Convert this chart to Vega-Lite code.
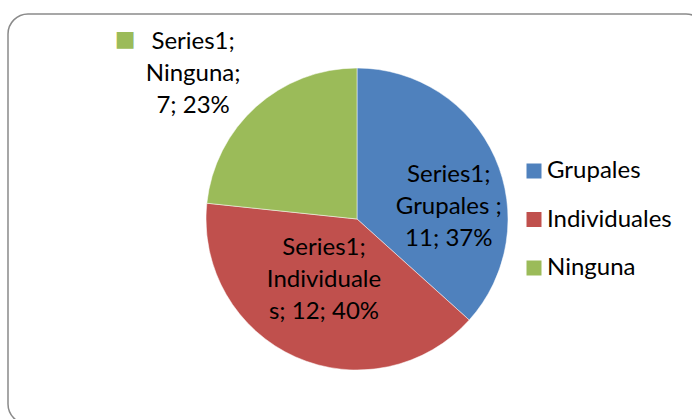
{
  "$schema": "https://vega.github.io/schema/vega-lite/v6.json",
  "autosize": "none",
  "padding": {"left": 8, "top": 14, "right": -14, "bottom": -5},
  "width": 698,
  "height": 410,
  "background": "white",
  "config": {
    "view": {"stroke": null},
    "font": "Lato"
  },
  "data": {
    "values": [
      {"cat": "Grupales", "value": 11, "k": 1, "label": "Series1;\nGrupales ;\n11; 37%"},
      {"cat": "Individuales", "value": 12, "k": 2, "label": "Series1;\nIndividuale\ns; 12; 40%"},
      {"cat": "Ninguna", "value": 7, "k": 3, "label": "Series1;\nNinguna;\n7; 23%"}
    ]
  },
  "layer": [
    {
      "data": {"values": [{"frame": 1}]},
      "mark": {"type": "rect", "fill": null, "stroke": "#8a8a8a", "strokeWidth": 1.5, "cornerRadius": 20},
      "encoding": {}
    },
    {
      "mark": {"type": "arc", "outerRadius": 151, "stroke": "white", "strokeWidth": 0.5},
      "encoding": {
        "theta": {"field": "value", "type": "quantitative", "stack": true},
        "order": {"field": "k", "type": "quantitative", "sort": "ascending"},
        "color": {
          "field": "cat",
          "type": "nominal",
          "scale": {"domain": ["Grupales", "Individuales", "Ninguna"], "range": ["#4F81BD", "#C0504D", "#9BBB59"]},
          "legend": {
            "title": null,
            "orient": "none",
            "legendX": 514,
            "legendY": 145,
            "padding": 0,
            "symbolType": "square",
            "symbolSize": 225,
            "symbolStrokeWidth": 0,
            "symbolOpacity": 1,
            "labelFont": "Lato",
            "labelFontSize": 24,
            "labelColor": "#000000",
            "labelOffset": 1,
            "rowPadding": 24.5
          }
        }
      }
    },
    {
      "mark": {"type": "text", "radius": 95, "dx": 5, "dy": -5, "font": "Lato", "fontSize": 24, "lineHeight": 32, "lineBreak": "\n", "align": "center", "baseline": "middle", "color": "#000000"},
      "encoding": {
        "theta": {"field": "value", "type": "quantitative", "stack": true},
        "order": {"field": "k", "type": "quantitative", "sort": "ascending"},
        "text": {"condition": {"test": "datum.cat === 'Grupales'", "field": "label"}, "value": ""}
      }
    },
    {
      "mark": {"type": "text", "radius": 70, "dx": -4.5, "dy": -34.5, "font": "Lato", "fontSize": 24, "lineHeight": 32, "lineBreak": "\n", "align": "center", "baseline": "middle", "color": "#000000"},
      "encoding": {
        "theta": {"field": "value", "type": "quantitative", "stack": true},
        "order": {"field": "k", "type": "quantitative", "sort": "ascending"},
        "text": {"condition": {"test": "datum.cat === 'Individuales'", "field": "label"}, "value": ""}
      }
    },
    {
      "mark": {"type": "text", "radius": 218, "dx": -18, "dy": -15, "font": "Lato", "fontSize": 24, "lineHeight": 32, "lineBreak": "\n", "align": "center", "baseline": "middle", "color": "#000000"},
      "encoding": {
        "theta": {"field": "value", "type": "quantitative", "stack": true},
        "order": {"field": "k", "type": "quantitative", "sort": "ascending"},
        "text": {"condition": {"test": "datum.cat === 'Ninguna'", "field": "label"}, "value": ""}
      }
    },
    {
      "mark": {"type": "text", "radius": 218, "dx": -86, "dy": -17.5, "font": "DejaVu Sans", "fontSize": 22, "align": "center", "baseline": "middle", "color": "#9BBB59"},
      "encoding": {
        "theta": {"field": "value", "type": "quantitative", "stack": true},
        "order": {"field": "k", "type": "quantitative", "sort": "ascending"},
        "text": {"condition": {"test": "datum.cat === 'Ninguna'", "value": "■"}, "value": ""}
      }
    }
  ]
}
